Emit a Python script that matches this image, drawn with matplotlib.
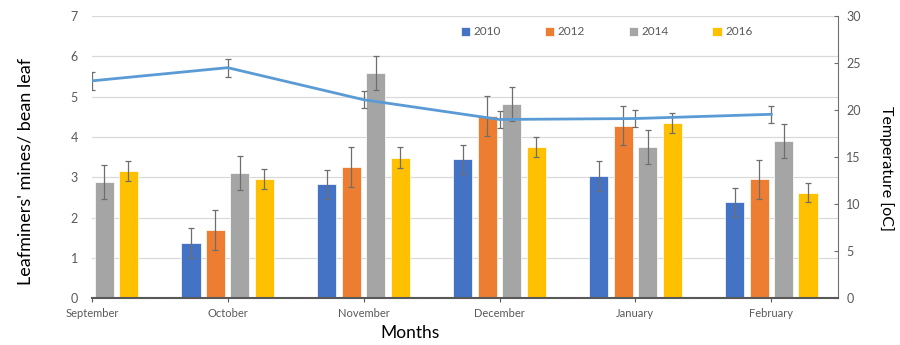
import matplotlib.pyplot as plt
import numpy as np

plt.rcParams['font.family'] = ['Lato', 'DejaVu Sans']

months = ['September', 'October', 'November', 'December', 'January', 'February']
years = ['2010', '2012', '2014', '2016']

# leafminer mines per bean leaf (nan = no bar shown)
mines_2010 = [np.nan, 1.37, 2.83, 3.45, 3.03, 2.38]
mines_2012 = [np.nan, 1.69, 3.26, 4.52, 4.28, 2.95]
mines_2014 = [2.88, 3.10, 5.59, 4.82, 3.75, 3.90]
mines_2016 = [3.16, 2.95, 3.49, 3.75, 4.34, 2.62]

err_2010 = [np.nan, 0.37, 0.36, 0.36, 0.37, 0.36]
err_2012 = [np.nan, 0.49, 0.49, 0.49, 0.49, 0.48]
err_2014 = [0.42, 0.42, 0.42, 0.42, 0.43, 0.43]
err_2016 = [0.25, 0.25, 0.26, 0.25, 0.25, 0.24]

temperature = [23.1, 24.5, 21.1, 19.0, 19.1, 19.55]
temp_err = [0.94, 0.94, 0.9, 0.9, 0.94, 0.9]

colors = ['#4472C4', '#ED7D31', '#A5A5A5', '#FFC000']
tick_col = '#595959'

fig = plt.figure(figsize=(9, 3.45), dpi=100)
ax = fig.add_axes([0.102, 0.135, 0.829, 0.819])
ax2 = ax.twinx()

x = np.arange(len(months))
step = 0.18
width = 0.14
series = [mines_2010, mines_2012, mines_2014, mines_2016]
errs = [err_2010, err_2012, err_2014, err_2016]
for i in range(4):
    ax.bar(x + (i - 1.5) * step, series[i], width, color=colors[i],
           edgecolor='white', linewidth=0.5, label=years[i], zorder=2,
           yerr=errs[i], error_kw=dict(ecolor='#6E6E6E', elinewidth=0.9,
                                       capsize=2.5, capthick=0.9))

ax2.errorbar(x, temperature, yerr=temp_err, color='#5B9BD5', lw=2,
             ecolor='#6E6E6E', elinewidth=0.9, capsize=2.5, capthick=0.9)

ax.set_xlim(0, 5.49)
ax.set_ylim(0, 7)
ax2.set_ylim(0, 30)
ax.set_yticks(range(0, 8))
ax2.set_yticks(range(0, 31, 5))
ax.set_xticks(x)
ax.set_xticklabels(months, fontsize=8, color=tick_col)
ax.yaxis.grid(True, color='#D9D9D9', lw=0.9, zorder=0)
ax.set_axisbelow(True)

for a in (ax, ax2):
    for s in a.spines.values():
        s.set_visible(False)
ax2.spines['right'].set_visible(True)
ax2.spines['right'].set_color('#6E6E6E')
ax2.spines['bottom'].set_visible(True)
ax2.spines['bottom'].set_color('#595959')
ax2.spines['bottom'].set_linewidth(1.5)

ax.tick_params(axis='y', length=0, labelsize=9, labelcolor=tick_col, pad=10)
ax.tick_params(axis='x', length=3, color='#595959', pad=4)
ax2.tick_params(axis='y', direction='in', length=3, color='#6E6E6E',
                labelsize=9, labelcolor=tick_col, pad=6)

ax.set_ylabel("Leafminers' mines/ bean leaf", fontsize=13)
ax.yaxis.set_label_coords(-0.078, 0.45)
ax.set_xlabel('Months', fontsize=12.5)
ax.xaxis.set_label_coords((410 - 92) / 746, -0.095)
ax2.set_ylabel('Temperature [oC]', fontsize=11.5, rotation=270)
ax2.yaxis.set_label_coords(1.075, 0.46)

ax.legend(loc='upper left', bbox_to_anchor=(0.48, 1.0), ncol=4, frameon=False,
          fontsize=8.5, handlelength=0.8, handleheight=0.8, columnspacing=3.7,
          handletextpad=0.3, labelcolor=tick_col)

fig.savefig('out.png', dpi=100)
